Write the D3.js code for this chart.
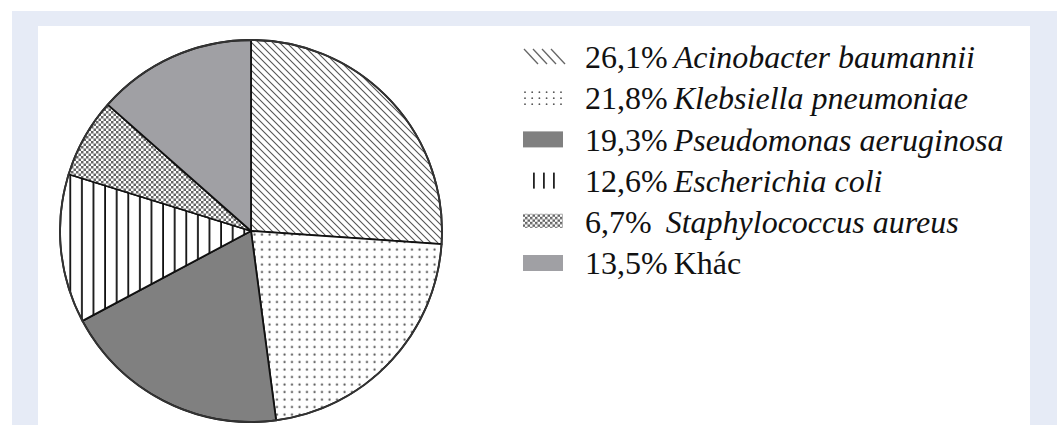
<!DOCTYPE html>
<html>
<head>
<meta charset="utf-8">
<script src="https://cdn.jsdelivr.net/npm/d3@7"></script>
<style>
  body { margin: 0; background: #fff; }
  svg { display: block; }
</style>
</head>
<body>
<div id="chart"></div>
<script>
"use strict";

// Données du graphique
const species = ["Acinobacter baumannii", "Klebsiella pneumoniae", "Pseudomonas aeruginosa",
                 "Escherichia coli", "Staphylococcus aureus", "Khác"];
const percents = [26.1, 21.8, 19.3, 12.6, 6.7, 13.5];
const percentLabels = ["26,1%", "21,8%", "19,3%", "12,6%", "6,7%", "13,5%"];
const italicName = [true, true, true, true, true, false];

const svgWidth = 1060;
const svgHeight = 425;

const svg = d3.select("#chart")
    .append("svg")
    .attr("width", svgWidth)
    .attr("height", svgHeight);

// cadre bleu clair + zone blanche
svg.append("rect")
    .attr("x", 12).attr("y", 11)
    .attr("width", 1045).attr("height", 420)
    .attr("fill", "#e6ebf6");
svg.append("rect")
    .attr("x", 38).attr("y", 26)
    .attr("width", 992).attr("height", 410)
    .attr("fill", "#fff");

// motifs de remplissage
const defs = svg.append("defs");

function hatchPattern(id, size, stroke, width) {
    const p = defs.append("pattern")
        .attr("id", id)
        .attr("patternUnits", "userSpaceOnUse")
        .attr("width", size).attr("height", size);
    p.append("rect").attr("width", size).attr("height", size).attr("fill", "#fff");
    // lignes "\" (haut-gauche vers bas-droite)
    p.append("path")
        .attr("d", `M0,0 L${size},${size} M${-size / 2},${size / 2} L${size / 2},${size * 1.5} M${size / 2},${-size / 2} L${size * 1.5},${size / 2}`)
        .attr("stroke", stroke)
        .attr("stroke-width", width);
}
hatchPattern("hatch", 7, "#555", 1.1);

const dots = defs.append("pattern")
    .attr("id", "dots")
    .attr("patternUnits", "userSpaceOnUse")
    .attr("width", 7.5).attr("height", 7.5);
dots.append("rect").attr("width", 7.5).attr("height", 7.5).attr("fill", "#fff");
dots.append("circle").attr("cx", 3.5).attr("cy", 3.5).attr("r", 1.1).attr("fill", "#555");

const vlines = defs.append("pattern")
    .attr("id", "vlines")
    .attr("patternUnits", "userSpaceOnUse")
    .attr("width", 11.6).attr("height", 10);
vlines.append("rect").attr("width", 11.6).attr("height", 10).attr("fill", "#fff");
vlines.append("rect").attr("x", 4).attr("width", 1.8).attr("height", 10).attr("fill", "#111");

const checker = defs.append("pattern")
    .attr("id", "checker")
    .attr("patternUnits", "userSpaceOnUse")
    .attr("width", 5).attr("height", 5);
checker.append("rect").attr("width", 5).attr("height", 5).attr("fill", "#fff");
checker.append("rect").attr("width", 2.5).attr("height", 2.5).attr("fill", "#666");
checker.append("rect").attr("x", 2.5).attr("y", 2.5).attr("width", 2.5).attr("height", 2.5).attr("fill", "#666");

const fills = ["url(#hatch)", "url(#dots)", "#808080", "url(#vlines)", "url(#checker)", "#a0a0a4"];

// camembert
const cx = 251, cy = 231, radius = 191;

const pie = d3.pie()
    .value(d => d)
    .sort(null);

const arc = d3.arc()
    .innerRadius(0)
    .outerRadius(radius);

const g = svg.append("g")
    .attr("transform", `translate(${cx},${cy})`);

g.selectAll(".slice")
    .data(pie(percents))
    .enter().append("path")
    .attr("class", "slice")
    .attr("d", arc)
    .attr("fill", (d, i) => fills[i])
    .attr("stroke", "#111")
    .attr("stroke-width", 1.8)
    .attr("stroke-linejoin", "round");

g.append("circle")
    .attr("r", radius)
    .attr("fill", "none")
    .attr("stroke", "#333")
    .attr("stroke-width", 1.8);

// légende
const yRow = d3.scalePoint()
    .domain(species)
    .range([57, 263]);

const legend = svg.append("g").attr("class", "legend");

const rows = legend.selectAll(".row")
    .data(species)
    .enter().append("g")
    .attr("class", "row")
    .attr("transform", d => `translate(0,${yRow(d)})`);

// symboles
rows.each(function (d, i) {
    const r = d3.select(this);
    if (i === 0) {
        for (let k = 0; k < 4; k++) {
            r.append("line")
                .attr("x1", 524 + k * 9).attr("y1", -8)
                .attr("x2", 538 + k * 9).attr("y2", 7)
                .attr("stroke", "#666").attr("stroke-width", 1.3);
        }
    } else if (i === 1) {
        for (let row = 0; row < 3; row++) {
            for (let col = 0; col < 6; col++) {
                r.append("circle")
                    .attr("cx", 525 + col * 7.2).attr("cy", -6 + row * 6)
                    .attr("r", 0.9).attr("fill", "#555");
            }
        }
    } else if (i === 3) {
        for (let k = 0; k < 3; k++) {
            r.append("rect")
                .attr("x", 533 + k * 10).attr("y", -8)
                .attr("width", 1.8).attr("height", 16)
                .attr("fill", "#222");
        }
    } else {
        r.append("rect")
            .attr("x", 523).attr("y", -8)
            .attr("width", 40).attr("height", i === 4 ? 14 : 16)
            .attr("fill", fills[i]);
    }
});

const txt = rows.append("text")
    .attr("x", 585)
    .attr("y", 0)
    .attr("dy", "0.35em")
    .attr("font-family", "'Liberation Serif', 'Times New Roman', serif")
    .attr("font-size", 32)
    .attr("fill", "#111");

txt.append("tspan").text((d, i) => percentLabels[i]);
txt.append("tspan")
    .attr("dx", (d, i) => i === 4 ? 14 : 6)
    .attr("font-style", (d, i) => italicName[i] ? "italic" : "normal")
    .text(d => d);
</script>
</body>
</html>
